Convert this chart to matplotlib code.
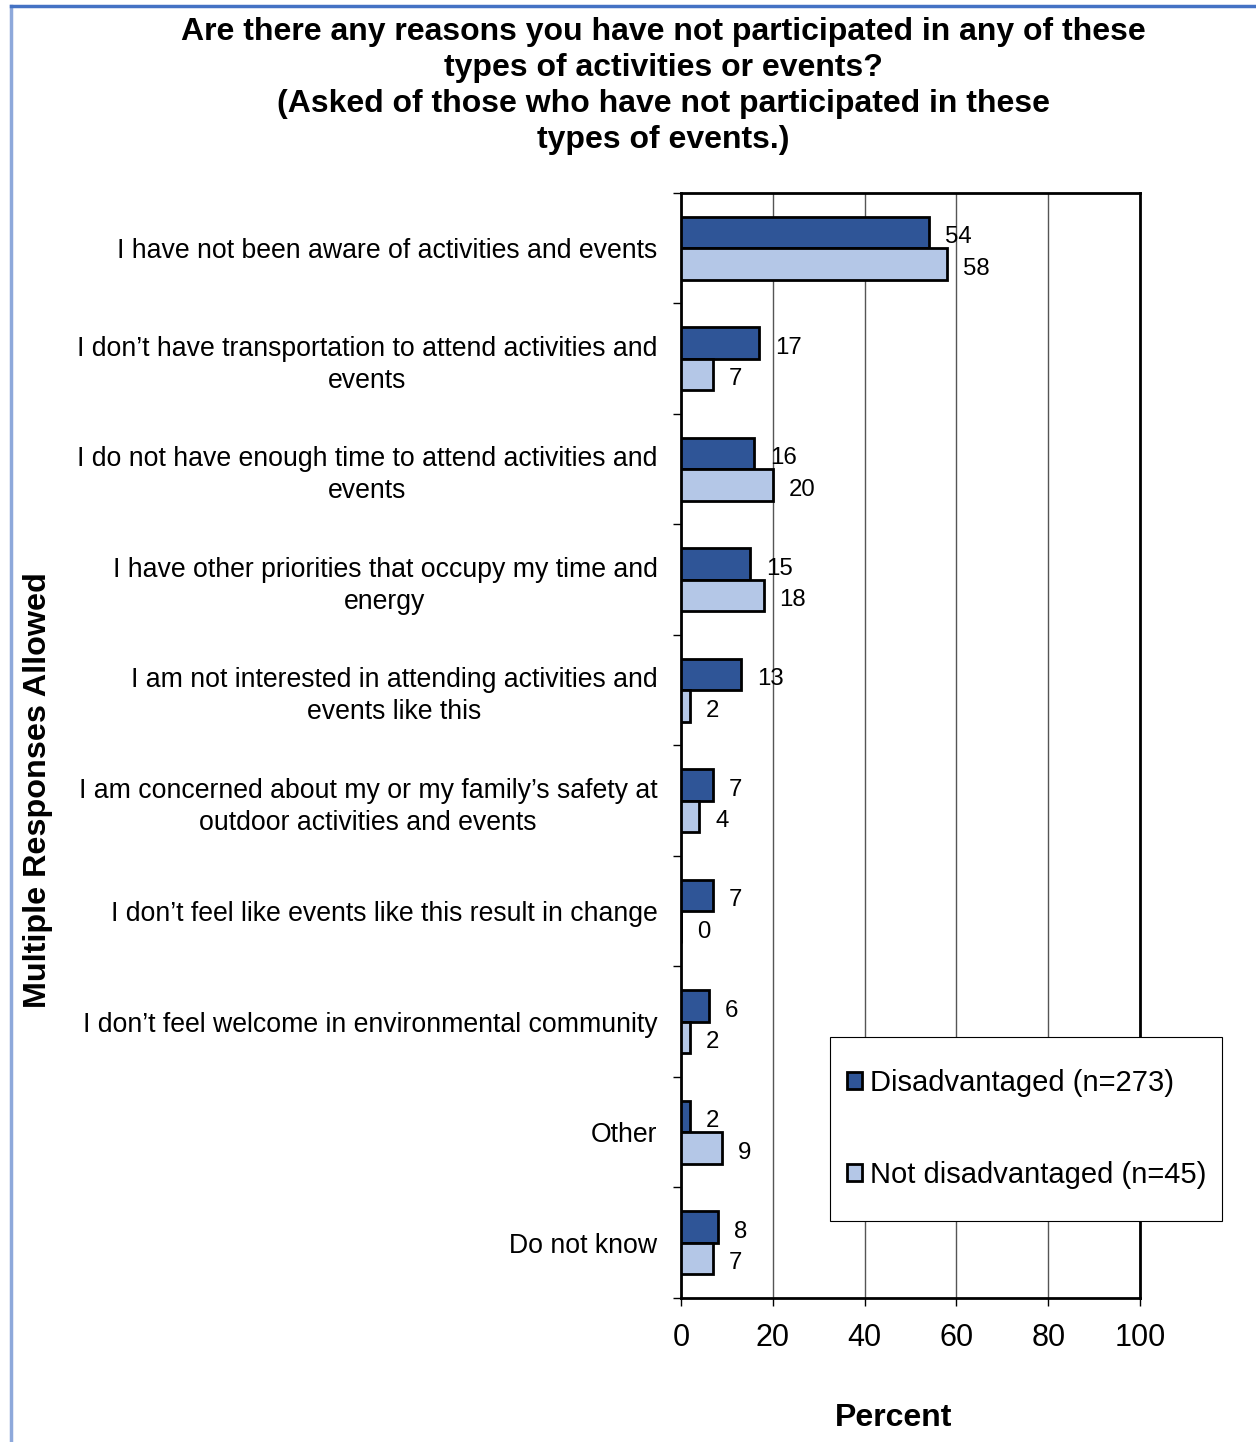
import numpy as np
import matplotlib.pyplot as plt
from matplotlib.lines import Line2D
from matplotlib.patches import Rectangle

plt.rcParams['font.family'] = ['Liberation Sans', 'DejaVu Sans']

categories = [
    "I have not been aware of activities and events",
    "I don\u2019t have transportation to attend activities and\nevents",
    "I do not have enough time to attend activities and\nevents",
    "I have other priorities that occupy my time and\nenergy",
    "I am not interested in attending activities and\nevents like this",
    "I am concerned about my or my family\u2019s safety at\noutdoor activities and events",
    "I don\u2019t feel like events like this result in change",
    "I don\u2019t feel welcome in environmental community",
    "Other",
    "Do not know",
]
disadvantaged = [54, 17, 16, 15, 13, 7, 7, 6, 2, 8]
not_disadvantaged = [58, 7, 20, 18, 2, 4, 0, 2, 9, 7]
series_names = ["Disadvantaged (n=273)", "Not disadvantaged (n=45)"]
x_ticks = [0, 20, 40, 60, 80, 100]

dark = "#2F5597"
light = "#B4C7E7"

fig = plt.figure(figsize=(12.56, 14.42), dpi=100)
ax = fig.add_axes([0.5422, 0.0999, 0.3655, 0.7663])

y = np.arange(len(categories))
h = 0.285
ax.barh(y - h / 2, disadvantaged, height=h, color=dark, edgecolor="black",
        linewidth=2, label=series_names[0], zorder=3)
ax.barh(y + h / 2, not_disadvantaged, height=h, color=light, edgecolor="black",
        linewidth=2, label=series_names[1], zorder=3)

for i, (a, b) in enumerate(zip(disadvantaged, not_disadvantaged)):
    ax.annotate(str(a), (a, i - h / 2), xytext=(11.5, -3.5), textcoords="offset points",
                va="center", ha="left", fontsize=17.3)
    ax.annotate(str(b), (b, i + h / 2), xytext=(11.5, -3.5), textcoords="offset points",
                va="center", ha="left", fontsize=17.3)

ax.set_xlim(0, 100)
ax.set_ylim(len(categories) - 0.5, -0.5)
ax.set_xticks(x_ticks)
ax.tick_params(axis="x", labelsize=22, length=6, width=1, pad=12, direction="out")

ax.set_yticks(y)
ax.set_yticklabels(categories, fontsize=19.2, ha="right", multialignment="center",
                   linespacing=1.3)
ax.tick_params(axis="y", length=0, pad=17)
ax.set_yticks(np.arange(len(categories) + 1) - 0.5, minor=True)
ax.tick_params(axis="y", which="minor", length=6, width=1)

ax.grid(axis="x", color="#555555", linewidth=1, zorder=0)
for s in ax.spines.values():
    s.set_linewidth(2)
    s.set_color("black")

ax.set_xlabel("Percent", fontsize=23, fontweight="bold")
ax.xaxis.set_label_coords(0.464, -0.095)
fig.text(0.0302, 0.452, "Multiple Responses Allowed", rotation=90, fontsize=23.3,
         fontweight="bold", ha="center", va="center")

fig.text(0.528, 0.988,
         "Are there any reasons you have not participated in any of these\n"
         "types of activities or events?\n"
         "(Asked of those who have not participated in these\n"
         "types of events.)",
         ha="center", va="top", fontsize=23, fontweight="bold", linespacing=1.26)

# legend box drawn separately so the inner padding can differ per side
ax.add_artist(Rectangle((0.6608, 0.1533), 0.3121, 0.1276, transform=fig.transFigure,
                        facecolor="white", edgecolor="black", linewidth=0.8,
                        clip_on=False, zorder=4))
leg = ax.legend(loc="center left", bbox_to_anchor=(0.6744, 0.2171),
                bbox_transform=fig.transFigure, fontsize=21, frameon=False,
                handlelength=0.52, handleheight=0.52, handletextpad=0.28,
                labelspacing=2.2, borderpad=0, borderaxespad=0)
leg.set_zorder(5)

fig.add_artist(Line2D([0.0088, 0.0088], [0, 0.9958], color="#8EA9DB", linewidth=2.5))
fig.add_artist(Line2D([0.0088, 1.0], [0.9958, 0.9958], color="#4472C4", linewidth=2.5))

fig.savefig("out.png", dpi=100)
